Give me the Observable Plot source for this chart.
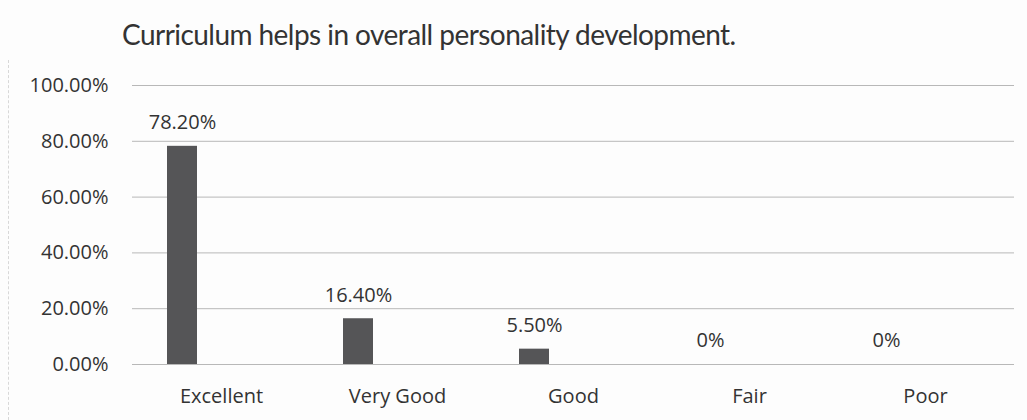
<!DOCTYPE html>
<html>
<head>
<meta charset="utf-8">
<script src="https://cdn.jsdelivr.net/npm/d3@7"></script>
<script src="https://cdn.jsdelivr.net/npm/@observablehq/plot@0.6"></script>
<style>
  html, body { margin: 0; padding: 0; background: #fdfdfd; }
  #wrap { position: relative; width: 1027px; height: 420px; overflow: hidden; font-family: "Open Sans", sans-serif; }
  #title { height: 60px; line-height: 60px; padding-left: 122px; font-family: Lato, "Open Sans", sans-serif; font-size: 28px; letter-spacing: -0.55px; color: #333; white-space: nowrap; box-sizing: border-box; padding-top: 4px; }
  #lborder { position: absolute; left: 8px; top: 60px; width: 0; height: 360px; border-left: 1px dashed #d8d8d8; }
</style>
</head>
<body>
<div id="wrap">
  <div id="title">Curriculum helps in overall personality development.</div>
  <div id="chart"></div>
  <div id="lborder"></div>
</div>
<script>
const categories = ["Excellent", "Very Good", "Good", "Fair", "Poor"];
const values = [0.782, 0.164, 0.055, 0, 0];
const valueLabels = ["78.20%", "16.40%", "5.50%", "0%", "0%"];
const yTicks = [0, 0.2, 0.4, 0.6, 0.8, 1.0];

const data = categories.map((c, i) => ({category: c, value: values[i], label: valueLabels[i]}));

const chart = Plot.plot({
  width: 1027,
  height: 360,
  marginTop: 25,
  marginBottom: 56,
  marginLeft: 132,
  marginRight: 13,
  style: {background: "transparent", fontFamily: "Open Sans, sans-serif", fontSize: "20px", color: "#333"},
  x: {domain: categories, paddingInner: 0.83, paddingOuter: 0.415, label: null},
  y: {domain: [0, 1], ticks: yTicks, tickFormat: d3.format(".2%"), label: null},
  marks: [
    Plot.gridY(yTicks, {stroke: "#b8b8b8", strokeOpacity: 1, strokeWidth: 1}),
    Plot.axisY({ticks: yTicks, tickFormat: d3.format(".2%"), tickSize: 0, tickPadding: 24, fontSize: 20, fill: "#333", label: null}),
    Plot.axisX({tickSize: 0, tickPadding: 24, fontSize: 20, fill: "#333", label: null}),
    Plot.barY(data, {x: "category", y: "value", fill: "#555557", dx: -39}),
    Plot.text(data, {x: "category", y: "value", text: "label", dx: -39, dy: -23.5, lineAnchor: "middle", fontSize: 20, fill: "#333"})
  ]
});
document.getElementById("chart").appendChild(chart);
</script>
</body>
</html>
